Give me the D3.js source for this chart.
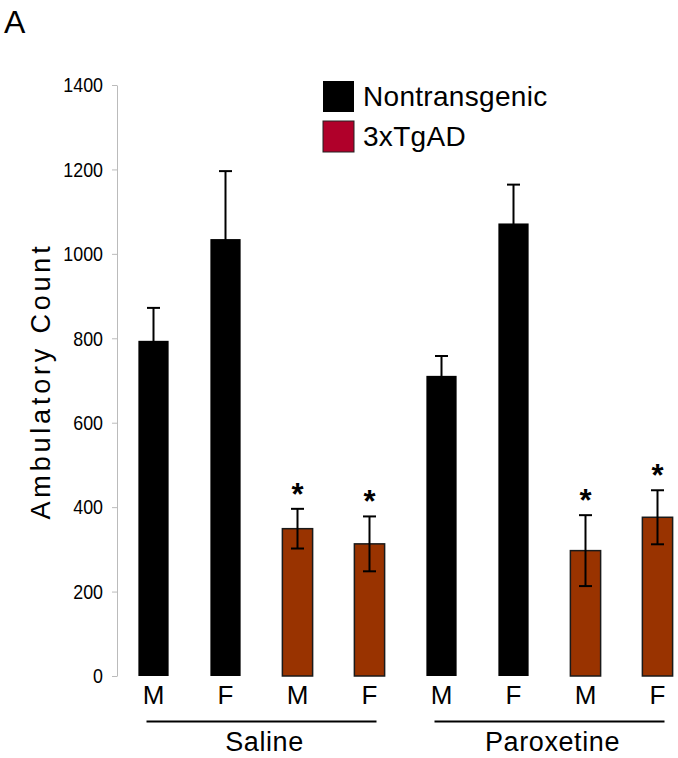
<!DOCTYPE html>
<html>
<head>
<meta charset="utf-8">
<script src="https://cdn.jsdelivr.net/npm/d3@7"></script>
<style>
  body { margin: 0; background: #fff; }
  svg { display: block; font-family: "Liberation Sans", Arial, sans-serif; }
</style>
</head>
<body>
<div id="chart"></div>
<script>
const treatments = ["Saline", "Paroxetine"];
const genotypes = ["Nontransgenic", "3xTgAD"];
const barTreatment = ["Saline", "Saline", "Saline", "Saline", "Paroxetine", "Paroxetine", "Paroxetine", "Paroxetine"];
const barGenotype = ["Nontransgenic", "Nontransgenic", "3xTgAD", "3xTgAD", "Nontransgenic", "Nontransgenic", "3xTgAD", "3xTgAD"];
const barSex = ["M", "F", "M", "F", "M", "F", "M", "F"];
const means = [794, 1035, 349, 313, 711, 1072, 297, 376];
const sems = [78, 161, 47, 65, 47, 92, 84, 64];
const significant = [false, false, true, true, false, false, true, true];
const yTicks = [0, 200, 400, 600, 800, 1000, 1200, 1400];

const width = 678, height = 758;
const bars = means.map((m, i) => ({
    id: i, mean: m, sem: sems[i], sex: barSex[i],
    treatment: barTreatment[i], genotype: barGenotype[i], star: significant[i]
}));

const svg = d3.select("#chart").append("svg")
    .attr("width", width).attr("height", height);

const x = d3.scaleBand()
    .domain(bars.map(d => d.id))
    .range([117.5, 693.5])
    .paddingInner(0.58)
    .paddingOuter(0.29);

const y = d3.scaleLinear()
    .domain([0, 1400])
    .range([676, 85]);

const barColor = d3.scaleOrdinal().domain(genotypes).range(["#000000", "#993300"]);
const legendColor = d3.scaleOrdinal().domain(genotypes).range(["#000000", "#b0002a"]);

// panel letter
svg.append("text").attr("x", 4).attr("y", 33)
    .attr("font-size", 32).text("A");

// y axis (narrow tick labels, squeezed horizontally)
const yAxis = svg.append("g")
    .attr("transform", "translate(117,0)")
    .call(d3.axisLeft(y).tickValues(yTicks).tickFormat(d3.format("d"))
        .tickSize(5).tickSizeOuter(0).tickPadding(11.5));
yAxis.select(".domain").attr("stroke", "#bbb");
yAxis.selectAll(".tick line").attr("stroke", "#bbb");
yAxis.selectAll(".tick text")
    .attr("font-size", 21).attr("fill", "#000")
    .attr("transform", "scale(0.85,1)");

svg.append("text")
    .attr("transform", `translate(50,${381}) rotate(-90)`)
    .attr("text-anchor", "middle")
    .attr("font-size", 27)
    .attr("letter-spacing", 3.8)
    .text("Ambulatory Count");

// bars
svg.selectAll("rect.bar")
    .data(bars)
    .enter().append("rect")
    .attr("class", "bar")
    .attr("x", d => x(d.id))
    .attr("y", d => y(d.mean))
    .attr("width", x.bandwidth())
    .attr("height", d => y(0) - y(d.mean))
    .attr("fill", d => barColor(d.genotype))
    .attr("stroke", d => d.genotype === "3xTgAD" ? "#1a1a1a" : "none")
    .attr("stroke-width", 1.5);

// error bars
const cx = d => x(d.id) + x.bandwidth() / 2;
const err = svg.append("g").attr("stroke", "#000").attr("stroke-width", 2);
err.selectAll("line.v")
    .data(bars).enter().append("line")
    .attr("x1", cx).attr("x2", cx)
    .attr("y1", d => y(d.mean - d.sem)).attr("y2", d => y(d.mean + d.sem));
err.selectAll("line.top")
    .data(bars).enter().append("line")
    .attr("x1", d => cx(d) - 6.5).attr("x2", d => cx(d) + 6.5)
    .attr("y1", d => y(d.mean + d.sem)).attr("y2", d => y(d.mean + d.sem));
err.selectAll("line.bot")
    .data(bars.filter(d => d.genotype === "3xTgAD")).enter().append("line")
    .attr("x1", d => cx(d) - 6.5).attr("x2", d => cx(d) + 6.5)
    .attr("y1", d => y(d.mean - d.sem)).attr("y2", d => y(d.mean - d.sem));

// significance stars
svg.selectAll("text.star")
    .data(bars.filter(d => d.star))
    .enter().append("text")
    .attr("class", "star")
    .attr("x", cx)
    .attr("y", d => y(d.mean + d.sem) - 4)
    .attr("text-anchor", "middle")
    .attr("font-size", 31)
    .attr("font-weight", "bold")
    .text("*");

// sex labels
svg.selectAll("text.sex")
    .data(bars)
    .enter().append("text")
    .attr("class", "sex")
    .attr("x", cx)
    .attr("y", 704)
    .attr("text-anchor", "middle")
    .attr("font-size", 26)
    .text(d => d.sex);

// treatment group lines and labels
treatments.forEach(t => {
    const members = bars.filter(d => d.treatment === t);
    const x0 = cx(members[0]) - 7, x1 = cx(members[members.length - 1]) + 7;
    svg.append("line")
        .attr("x1", x0).attr("x2", x1)
        .attr("y1", 721.5).attr("y2", 721.5)
        .attr("stroke", "#000").attr("stroke-width", 2);
    svg.append("text")
        .attr("x", (x0 + x1) / 2 + 3)
        .attr("y", 751)
        .attr("text-anchor", "middle")
        .attr("font-size", 27)
        .attr("letter-spacing", 0.6)
        .text(t);
});

// legend
const legend = svg.append("g").attr("transform", "translate(323,81)");
genotypes.forEach((g, i) => {
    legend.append("rect")
        .attr("x", 0).attr("y", i * 40)
        .attr("width", 31).attr("height", 31)
        .attr("fill", legendColor(g))
        .attr("stroke", i ? "#222" : "none");
    legend.append("text")
        .attr("x", 40).attr("y", i * 40 + 25)
        .attr("font-size", 28)
        .attr("letter-spacing", 0.3)
        .text(g);
});
</script>
</body>
</html>
